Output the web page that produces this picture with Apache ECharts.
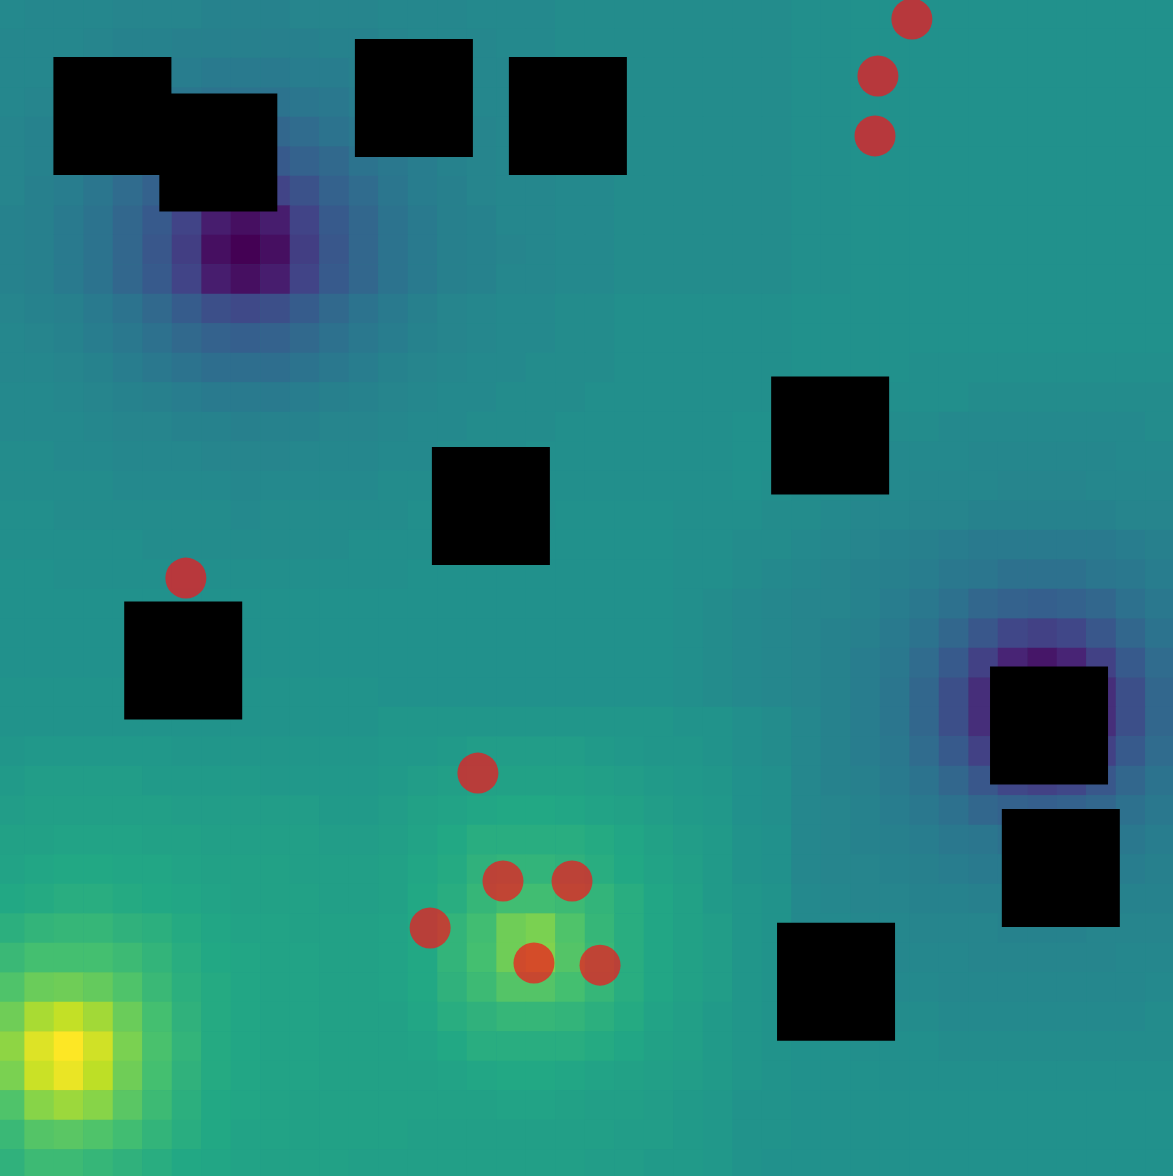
<!DOCTYPE html>
<html>
<head>
<meta charset="utf-8">
<script src="https://cdn.jsdelivr.net/npm/echarts@6/dist/echarts.min.js"></script>
<style>
html,body{margin:0;padding:0;background:#21908c;overflow:hidden;width:1173px;height:1176px;position:relative}
#chart{position:absolute;left:-5px;top:-1px;width:1180px;height:1180px}
</style>
</head>
<body>
<div id="chart"></div>
<script>
// 40 x 40 field, row 0 at the top, values on a 0..100 scale (viridis)
const heatRows = [
[47,46,46,46,45,45,45,44,44,44,45,45,45,46,46,46,47,47,47,48,48, 48,48,48,48,48,48, 49,49,50,50,50,50,50,50,50,50,50,50,50],
[46,46,46,45,44,44,43,43,43,43,43,44,44,45,46,46,46,47,47,48,48, 48,48,48,48,48,48, 49,49,50,50,50,50,50,50,50,50,50,50,50],
[46,46,45,44,43,42,42,41,41,41,42,42,43,44,45,46,46,46,47,47,48, 48,48,48,48,48,48, 49,49,50,50,50,50,50,50,50,50,50,50,50],
[46,45,44,43,42,40,39,38,38,38,39,40,42,43,44,45,46,46,47,47,48, 48,48,48,48,48,48, 49,49,50,50,50,50,50,50,50,50,50,50,50],
[45,44,43,42,40,38,35,33,33,33,35,38,40,42,43,44,45,46,46,47,47, 48,48,48,48,48,48, 49,49,50,50,50,50,50,50,50,50,50,50,50],
[45,44,42,40,38,34,31,28,27,28,31,34,38,40,42,44,45,46,46,47,47, 48,48,48,48,48,48, 49,49,50,50,50,50,50,50,50,50,50,50,50],
[45,43,42,39,35,31,25,20,18,20,25,31,35,39,42,43,45,46,46,47,47, 48,48,48,48,48,48, 49,49,50,50,50,50,50,50,50,50,50,50,50],
[44,43,41,38,33,28,20,8,4,8,20,28,33,38,41,43,44,46,46,47,47, 48,48,48,48,48,48, 49,49,50,50,50,50,50,50,50,50,50,50,50],
[44,43,41,38,33,27,18,4,0,4,18,27,33,38,41,43,44,45,46,47,47, 48,48,48,48,48,48, 49,49,50,50,50,50,50,50,50,50,50,50,50],
[44,43,41,38,33,28,20,8,4,8,20,28,33,38,41,43,44,46,46,47,47, 48,48,48,48,48,48, 49,49,50,50,50,50,50,50,50,50,50,50,50],
[45,44,43,41,38,34,29,24,22,24,29,34,38,41,43,45,46,47,47,48,48, 49,49,49,49,49,49, 50,50,50,50,50,50,50,50,50,50,50,50,50],
[46,45,44,42,40,37,34,31,30,31,34,37,40,42,44,45,46,47,47,48,48, 49,49,49,49,49,49, 50,50,50,50,50,50,50,50,50,50,50,50,50],
[46,46,45,44,42,40,38,36,36,36,38,40,42,44,45,46,47,47,48,48,48, 49,49,49,49,49,49, 50,50,50,50,49,49,49,49,49,49,49,49,49],
[47,47,46,45,44,43,42,41,41,41,42,43,44,45,46,47,47,48,48,48,49, 49,49,49,49,49,49, 50,50,49,49,49,49,48,48,48,48,48,48,48],
[47,47,47,46,45,45,44,44,43,44,44,45,45,46,47,47,48,48,48,49,49, 49,49,49,49, 50,50,50,49,49,48,48,47,47,47,47,47,47,47,48],
[48,48,47,47,46,46,46,45,45,45,46,46,46,47,47,48,48,48,49,49,49, 49,49,49,49, 50,50,49,49,48,47,47,47,46,46,46,46,46,47,47],
[48,48,48,48,47,47,47,47,46,47,47,47,47,48,48,48,49,49,49,49,49, 49,49,49,49, 50,49,48,48,47,47,46,46,46,45,45,45,46,46,46],
[49,49,48,48,48,48,48,48,47,48,48,48,48,48,49,49,49,49,49,50,50, 50,50,49,49, 49,48,48,47,46,46,45,45,44,44,44,44,44,45,45],
[49,49,49,49,49,48,48,48,48,48,48,48,49,49,49,49,49,50,50,50,50, 50,50,49,49, 48,48,47,46,45,44,43,42,41,41,41,41,41,42,43],
[50,50,49,49,49,49,49,49,49,49,49,49,49,49,50,50,50,50,50,50,50, 50,50,49,49, 48,47,46,45,44,43,42,40,39,37,37,37,39,40,42],
[50,50,50,50,50,50,50,50,50,50,50,50,50,50,50,50,50,50,50,50,50,50,50,49,48, 47,46,45,45,44,42,40,37,33,31,30,31,33,37,40],
[50,50,50,50,50,50,50,50,50,50,50,50,50,50,50,50,50,50,50,50,50,50,50,49,48, 47,46,45,44,43,41,38,33,27,21,19,21,27,33,38],
[50,50,50,50,50,50,50,50,50,50,50,50,50,50,50,50,50,50,50,50,50,50,50,49,48, 47,46,45,44,42,40,35,28,19,10,6,10,19,28,35],
[51,51,51,51,51,51,51,51,51,51,51,51,51,50,50,50,50,50,50,50,50,50,50,49,48, 47,46,45,44,42,39,33,24,13,3,1,3,13,24,33],
[51,51,51,51,51,51,51,51,51,51,51,51,51, 52,52,52,52,52,52,52,52,52,52,51,51,49,48, 46,44,42,39,33,24,13,3,1,3,13,24,33],
[52,53,53,53,53,53,52,52,52,52,52,52,52, 53,53,54,55,55,55,55,54,53,52,52,51,49,48, 46,44,42,40,35,28,19,10,6,10,19,28,35],
[54,55,55,55,55,54,54,54,54,53,53,53,53, 54,55,56,57,57,57,57,56,55,54,53,52,50,49, 46,44,43,41,38,33,27,21,19,21,27,33,38],
[55,56,56,56,56,56,55,55,55,55,55,54,54, 55,57,58,59,60,60,59,58,57,55,54,53,50,49, 46,45,44,42,40,37,33,31,30,31,33,37,40],
[57,57,58,58,58,57,57,56,56,56,56,55,55, 56,58,60,62,62,62,62,61,59,57,55,54,51,50, 46,45,44,43,42,40,39,37,37,37,39,40,42],
[58,59,60,60,59,59,58,57,57,57,56,56,56, 57,59,61,64,65,65,64,62,60,58,56,54,51,50, 46,45,45,44,43,42,41,41,41,41,41,42,43],
[60,61,62,62,61,60,59,58,57,57,57,56,56, 57,60,62,66,69,69,68,65,62,59,57,54,52,51, 47,46,45,45,44,44,43,43,43,43,43,44,44],
[63,65,66,66,64,63,61,59,58,58,57,57,57, 58,60,65,69,78,80,72,66,62,59,57,55,52,51, 47,47,46,46,45,45,45,44,44,44,45,45,45],
[67,70,70,70,68,65,62,60,59,58,58,57,57, 58,60,65,70,78,81,73,67,62,59,57,55,52,51, 48,48,47,46,46,46,45,45,45,45,45,46,46],
[72,77,78,76,72,67,63,61,59,58,58,57,57, 58,60,64,68,73,73,70,66,62,59,57,55,52,51, 49,48,48,47,47,46,46,46,46,46,46,46,47],
[78,87,91,86,77,70,64,61,59,58,58,57,57, 57,59,62,64,66,66,65,63,61,58,56,54,52,51, 50,49,49,48,48,47,47,47,47,47,47,47,48],
[83,95,100,93,80,71,65,61,59,58,58,57,57, 57,58,60,62,62,62,62,61,59,57,56,54,52,51, 50,50,49,49,49,48,48,48,48,48,48,48,48],
[80,92,97,90,78,70,64,61,59,58,58,57,57, 57,57,58,59,60,60,59,58,57,56,55,54,52,51, 50,50,50,49,49,49,49,49,49,49,49,49,49],
[72,82,85,82,74,68,63,60,59,58,57,57,57, 57,57,57,57,58,58,57,56,56,55,54,53,51,51, 50,50,50,50,50,50,50,50,50,50,50,50,50],
[67,73,74,72,69,65,62,60,58,58,57,57,57, 57,56,56,56,56,56,56,56,55,55,54,53,51,51, 50,50,50,50,50,50,50,50,50,50,50,50,50],
[64,68,68,66,64,62,60,59,58,57,57,57,56, 56,56,56,56,56,56,56,55,55,54,54,53,51,50, 50,50,50,50,50,50,50,50,50,50,50,50,50]
];

// obstacles: top-left corner in cell units, side length in cell units
const squareX = [1.98, 5.57, 12.20, 17.42, 26.31, 14.81, 4.38, 33.73, 34.13, 26.51];
const squareY = [1.97, 3.20, 1.36, 1.97, 12.80, 15.19, 20.42, 22.63, 27.46, 31.31];
const squareSide = [4, 4, 4, 4, 4, 4, 4, 4, 4, 4];

// agents: centres in cell units
const agentX = [31.08, 29.93, 29.83, 6.47, 16.37, 17.22, 19.56, 14.75, 18.27, 20.51];
const agentY = [0.68, 2.61, 4.64, 19.63, 26.24, 29.90, 29.90, 31.49, 32.68, 32.75];

const viridis = ['#440154','#482475','#414487','#355f8d','#2a788e','#21918c','#22a884','#44bf70','#7ad151','#bddf26','#fde725'];

const nRows = heatRows.length;
const nCols = heatRows[0].length;
const xCats = Array.from({length: nCols}, (_, i) => String(i));
const yCats = Array.from({length: nRows}, (_, i) => String(i));
const heatData = [];
heatRows.forEach((row, r) => row.forEach((v, c) => heatData.push([c, r, v])));
const squareData = squareX.map((x, i) => [x, squareY[i], squareSide[i]]);
const agentData = agentX.map((x, i) => [x, agentY[i]]);

const hidden = {show: false};
const chart = echarts.init(document.getElementById('chart'), null, {renderer: 'canvas'});
chart.setOption({
  animation: false,
  backgroundColor: '#21908c',
  grid: {left: 0, top: 0, right: 0, bottom: 0, containLabel: false},
  xAxis: [
    {type: 'category', data: xCats, axisLine: hidden, axisTick: hidden, axisLabel: hidden, splitLine: hidden},
    {type: 'value', min: 0, max: nCols, axisLine: hidden, axisTick: hidden, axisLabel: hidden, splitLine: hidden}
  ],
  yAxis: [
    {type: 'category', data: yCats, inverse: true, axisLine: hidden, axisTick: hidden, axisLabel: hidden, splitLine: hidden},
    {type: 'value', min: 0, max: nRows, inverse: true, axisLine: hidden, axisTick: hidden, axisLabel: hidden, splitLine: hidden}
  ],
  visualMap: {show: false, min: 0, max: 100, seriesIndex: 0, inRange: {color: viridis}},
  series: [
    {
      type: 'heatmap', xAxisIndex: 0, yAxisIndex: 0, data: heatData,
      itemStyle: {borderWidth: 0}, emphasis: {disabled: true}, progressive: 0
    },
    {
      type: 'custom', xAxisIndex: 1, yAxisIndex: 1, data: squareData, z: 5,
      renderItem: function (params, api) {
        const x0 = api.value(0), y0 = api.value(1), s = api.value(2);
        const p0 = api.coord([x0, y0]);
        const p1 = api.coord([x0 + s, y0 + s]);
        return {
          type: 'rect',
          shape: {x: Math.min(p0[0], p1[0]), y: Math.min(p0[1], p1[1]), width: Math.abs(p1[0] - p0[0]), height: Math.abs(p1[1] - p0[1])},
          style: {fill: '#000000'}
        };
      }
    },
    {
      type: 'scatter', xAxisIndex: 1, yAxisIndex: 1, data: agentData, z: 6,
      symbol: 'circle', symbolSize: 41,
      itemStyle: {color: 'rgba(248,18,26,0.7)', opacity: 1, borderWidth: 0},
      emphasis: {disabled: true}
    }
  ]
});
</script>
</body>
</html>
